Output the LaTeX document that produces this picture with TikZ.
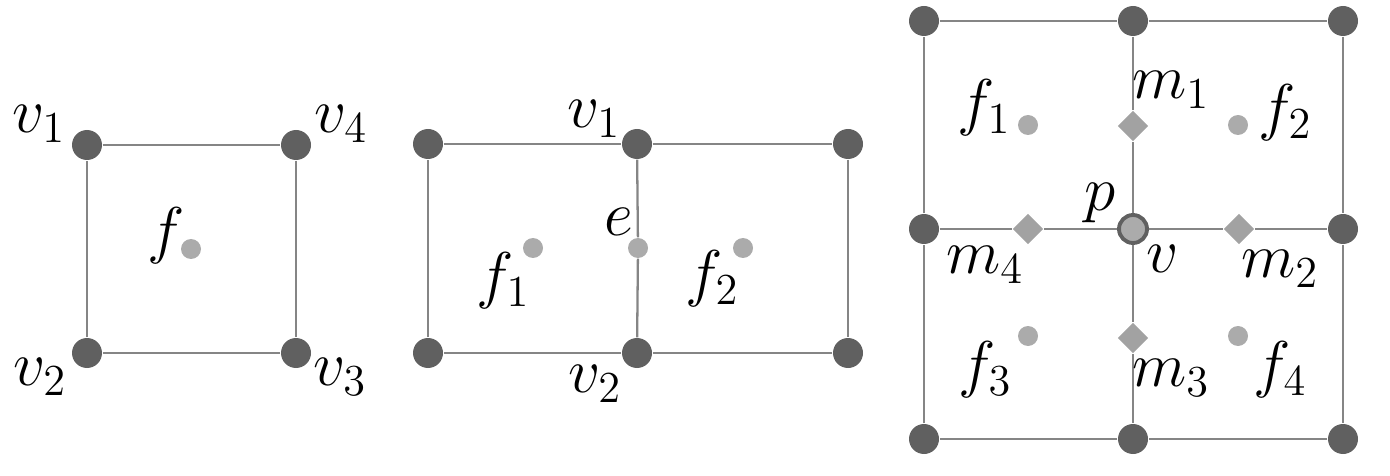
\RequirePackage{fix-cm}
\documentclass[tikz,border=0pt]{standalone}
\usetikzlibrary{shapes.geometric}

\definecolor{vdark}{HTML}{606060}
\definecolor{flight}{HTML}{ABABAB}
\definecolor{mgray}{HTML}{A2A2A2}
\definecolor{egray}{HTML}{858585}

\begin{document}
\begin{tikzpicture}[
    x=0.1mm, y=-0.1mm,
    vtx/.style={circle, fill=vdark, inner sep=0pt, minimum size=3mm},
    fdot/.style={circle, fill=flight, inner sep=0pt, minimum size=2mm},
    mdia/.style={diamond, fill=mgray, inner sep=0pt, minimum size=3.1mm},
    cdot/.style={circle, fill=flight, draw=vdark, line width=1.1pt, inner sep=0pt, minimum size=2.8mm},
    edg/.style={draw=egray, line width=0.65pt},
    lbl/.style={font=\fontsize{18}{21}\selectfont, inner sep=0pt},
]
\useasboundingbox (0,0) rectangle (1390,476);

% ---- Face seule ----
\node[vtx] (a1) at (87,145) {};
\node[vtx] (a4) at (296,145) {};
\node[vtx] (a2) at (87,353) {};
\node[vtx] (a3) at (296,353) {};
\node[fdot] (af) at (191,249) {};
\draw[edg] (a1) -- (a4) -- (a3) -- (a2) -- (a1);
\node[lbl] at (39,124) {$v_1$};
\node[lbl] at (341,124) {$v_4$};
\node[lbl] at (40,377) {$v_2$};
\node[lbl] at (340,377) {$v_3$};
\node[lbl] at (166,236) {$f$};

% ---- Arete entre deux faces ----
\foreach \n/\x in {l/428, m/637, r/848} {
    \node[vtx] (bt\n) at (\x,144) {};
    \node[vtx] (bb\n) at (\x,353) {};
}
\node[fdot] (bf1) at (533,248) {};
\node[fdot] (be) at (638,248) {};
\node[fdot] (bf2) at (743,248) {};
\draw[edg] (btl) -- (btm) -- (btr) -- (bbr) -- (bbm) -- (bbl) -- (btl);
\draw[edg] (btm) -- (be) -- (bbm);
\node[lbl] at (594,119) {$v_1$};
\node[lbl] at (595,384) {$v_2$};
\node[lbl] at (619,222) {$e$};
\node[lbl] at (503,281) {$f_1$};
\node[lbl] at (712,279) {$f_2$};

% ---- Sommet et ses voisins ----
\foreach \i/\x in {1/924, 2/1133, 3/1343} {
    \foreach \j/\y in {1/21, 2/229, 3/439} {
        \ifnum\i\j=22
            \node[cdot] (c\i\j) at (\x,\y) {};
        \else
            \node[vtx] (c\i\j) at (\x,\y) {};
        \fi
    }
}
\node[mdia] (m1) at (1133,126) {};
\node[mdia] (m2) at (1239,229) {};
\node[mdia] (m3) at (1133,338) {};
\node[mdia] (m4) at (1028,229) {};
\foreach \k/\x/\y in {1/1028/125, 2/1238/125, 3/1028/336, 4/1238/336}
    \node[fdot] (cf\k) at (\x,\y) {};
\draw[edg] (c11) -- (c21) -- (c31) -- (c32) -- (c33) -- (c23) -- (c13) -- (c12) -- (c11);
\draw[edg] (c21) -- (m1) -- (c22) -- (m3) -- (c23);
\draw[edg] (c12) -- (m4) -- (c22) -- (m2) -- (c32);
\node[lbl] at (1171,90) {$m_1$};
\node[lbl] at (1280,269) {$m_2$};
\node[lbl] at (1171,378) {$m_3$};
\node[lbl] at (985,265) {$m_4$};
\node[lbl] at (984,108) {$f_1$};
\node[lbl] at (1285,113) {$f_2$};
\node[lbl] at (985,370) {$f_3$};
\node[lbl] at (1280,370) {$f_4$};
\node[lbl] at (1100,203) {$p$};
\node[lbl] at (1163,259) {$v$};

\end{tikzpicture}
\end{document}
